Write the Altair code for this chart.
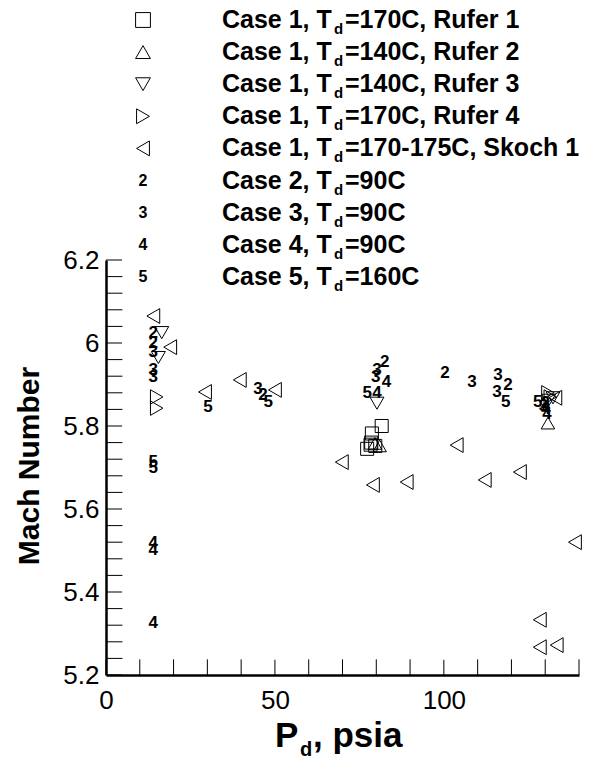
import altair as alt
import pandas as pd

# ---------------- data ----------------
rufer1_x = [81.6, 78.7, 78.3, 77.3, 79.7, 78.5]
rufer1_y = [5.800, 5.782, 5.755, 5.745, 5.752, 5.760]
rufer2_x = [79.6, 81.0, 130.8]
rufer2_y = [5.758, 5.752, 5.807]
rufer3_x = [16.5, 15.5, 80.2, 132.3, 131.0]
rufer3_y = [6.025, 5.965, 5.855, 5.868, 5.862]
rufer4_x = [15.0, 15.0, 130.8, 131.5]
rufer4_y = [5.870, 5.843, 5.880, 5.870]
skoch_x = [14.0, 19.0, 29.3, 39.6, 50.0, 69.8, 79.0, 89.0, 103.8, 112.1, 122.5, 138.8, 128.4, 128.4, 133.4, 133.0]
skoch_y = [6.065, 5.990, 5.882, 5.911, 5.887, 5.713, 5.658, 5.665, 5.754, 5.670, 5.689, 5.520, 5.333, 5.267, 5.272, 5.868]

case2_x = [14.0, 14.0, 46.5, 82.5, 100.3, 119.0, 130.0]
case2_y = [6.024, 6.000, 5.875, 5.955, 5.928, 5.899, 5.855]
case3_x = [14.0, 14.0, 14.0, 45.0, 80.2, 79.8, 108.3, 116.0, 115.7, 129.5]
case3_y = [5.978, 5.935, 5.918, 5.890, 5.935, 5.918, 5.906, 5.923, 5.882, 5.848]
case4_x = [14.0, 14.0, 14.0, 83.0, 80.2, 130.2, 130.5]
case4_y = [5.518, 5.501, 5.325, 5.906, 5.880, 5.840, 5.830]
case5_x = [14.0, 14.0, 30.2, 48.0, 77.3, 118.3, 127.8]
case5_y = [5.713, 5.700, 5.846, 5.858, 5.880, 5.858, 5.858]

legend_prefix = ["Case 1, T", "Case 1, T", "Case 1, T", "Case 1, T", "Case 1, T",
                 "Case 2, T", "Case 3, T", "Case 4, T", "Case 5, T"]
legend_suffix = ["=170C, Rufer 1", "=140C, Rufer 2", "=140C, Rufer 3", "=170C, Rufer 4",
                 "=170-175C, Skoch 1", "=90C", "=90C", "=90C", "=160C"]
legend_shape = ["square", "triangle-up", "triangle-down", "triangle-right", "triangle-left"]
legend_digit = ["2", "3", "4", "5"]

x_major = [0, 50, 100]
x_minor = [10, 20, 30, 40, 60, 70, 80, 90, 110, 120, 130, 140]
y_major = [5.2, 5.4, 5.6, 5.8, 6.0, 6.2]
y_minor = [5.24, 5.28, 5.32, 5.36, 5.44, 5.48, 5.52, 5.56, 5.64, 5.68, 5.72, 5.76,
           5.84, 5.88, 5.92, 5.96, 6.04, 6.08, 6.12, 6.16]

X0, X1, Y0, Y1 = 0.0, 140.0, 5.2, 6.2

# ---------------- tables ----------------
shape_names = ["Rufer 1", "Rufer 2", "Rufer 3", "Rufer 4", "Skoch 1"]
shape_sets = [(rufer1_x, rufer1_y), (rufer2_x, rufer2_y), (rufer3_x, rufer3_y),
              (rufer4_x, rufer4_y), (skoch_x, skoch_y)]
rows = []
for n, (xs_, ys_) in zip(shape_names, shape_sets):
    for a, b in zip(xs_, ys_):
        rows.append({"series": n, "x": a, "y": b})
# inward axis ticks, drawn as stroked symbols sitting on the axes
for v in x_major:
    rows.append({"series": "xmaj", "x": v, "y": Y0})
for v in x_minor:
    rows.append({"series": "xmin", "x": v, "y": Y0})
for v in y_major:
    rows.append({"series": "ymaj", "x": X0, "y": v})
for v in y_minor:
    rows.append({"series": "ymin", "x": X0, "y": v})
df_shapes = pd.DataFrame(rows)

rows = []
for d, (xs_, ys_) in zip(legend_digit, [(case2_x, case2_y), (case3_x, case3_y),
                                        (case4_x, case4_y), (case5_x, case5_y)]):
    for a, b in zip(xs_, ys_):
        rows.append({"digit": d, "x": a, "y": b})
df_digits = pd.DataFrame(rows)

df_leg = pd.DataFrame({"row": list(range(9)), "prefix": legend_prefix, "suffix": legend_suffix,
                       "sym": legend_shape + legend_digit})

W, H = 473, 415
FONT = "Liberation Sans"
xs = alt.Scale(domain=[X0, X1], nice=False, zero=False)
ys = alt.Scale(domain=[Y0, Y1], nice=False, zero=False)

x_axis = alt.Axis(values=x_major, ticks=False, tickSize=0, domain=True, domainWidth=2.5,
                  domainColor="black", labelFont=FONT, labelFontSize=26, labelColor="black",
                  labelPadding=12, labelFlush=False, labelOverlap=False, grid=False, title=None)
y_axis = alt.Axis(values=y_major, format=".1~f", ticks=False, tickSize=0, domain=True,
                  domainWidth=2.5, domainColor="black", labelFont=FONT, labelFontSize=26,
                  labelColor="black", labelPadding=7, labelFlush=False, labelOverlap=False,
                  grid=False, title=None)

sym_domain = shape_names + ["xmaj", "xmin", "ymaj", "ymin"]
sym_range = legend_shape + ["M0,0L0,-2", "M0,0L0,-2", "M0,0L2,0", "M0,0L2,0"]
size_range = [170, 270, 270, 270, 270, 169, 49, 169, 49]
width_range = [1, 1, 1, 1, 1, 2, 1.2, 2, 1.2]

shapes = alt.Chart(df_shapes).mark_point(filled=False, color="black", opacity=1).encode(
    x=alt.X("x:Q", scale=xs, axis=x_axis),
    y=alt.Y("y:Q", scale=ys, axis=y_axis),
    shape=alt.Shape("series:N", scale=alt.Scale(domain=sym_domain, range=sym_range), legend=None),
    size=alt.Size("series:N", scale=alt.Scale(domain=sym_domain, range=size_range), legend=None),
    strokeWidth=alt.StrokeWidth("series:N", scale=alt.Scale(domain=sym_domain, range=width_range), legend=None),
)

digits = alt.Chart(df_digits).mark_text(font=FONT, fontWeight="bold", fontSize=17, color="black",
                                        align="center", baseline="middle").encode(
    x=alt.X("x:Q", scale=xs), y=alt.Y("y:Q", scale=ys), text="digit:N")

# legend
leg_base = alt.Chart(df_leg).transform_calculate(py="-240 + 32.1 * datum.row")
LY = alt.Y("py:Q", scale=None, axis=None)
leg_shapes = leg_base.transform_filter("datum.row < 5").mark_point(
    filled=False, color="black", strokeWidth=1, opacity=1, size=220).encode(
    x=alt.value(37), y=LY,
    shape=alt.Shape("sym:N", scale=None, legend=None))
leg_digits = leg_base.transform_filter("datum.row >= 5").mark_text(
    font=FONT, fontWeight="bold", fontSize=16, color="black", align="center", baseline="middle").encode(
    x=alt.value(37), y=LY, text="sym:N")
leg_prefix = leg_base.mark_text(font=FONT, fontWeight="bold", fontSize=25, color="black",
                                align="left", baseline="middle").encode(x=alt.value(116), y=LY, text="prefix:N")
leg_sub = leg_base.mark_text(font=FONT, fontWeight="bold", fontSize=15, color="black",
                             align="left", baseline="middle", dy=9).encode(x=alt.value(228), y=LY, text=alt.value("d"))
leg_suffix = leg_base.mark_text(font=FONT, fontWeight="bold", fontSize=25, color="black",
                                align="left", baseline="middle").encode(x=alt.value(239), y=LY, text="suffix:N")

# axis titles
one = pd.DataFrame({"a": [0]})
ytitle = alt.Chart(one).mark_text(font=FONT, fontWeight="bold", fontSize=30, color="black", angle=270,
                                  align="center", baseline="middle").encode(
    x=alt.value(-76), y=alt.value(206), text=alt.value("Mach Number"))
xt_p = alt.Chart(one).mark_text(font=FONT, fontWeight="bold", fontSize=35, color="black",
                                align="left", baseline="alphabetic").encode(
    x=alt.value(169), y=alt.value(487), text=alt.value("P"))
xt_d = alt.Chart(one).mark_text(font=FONT, fontWeight="bold", fontSize=20, color="black",
                                align="left", baseline="alphabetic").encode(
    x=alt.value(194), y=alt.value(496), text=alt.value("d"))
xt_rest = alt.Chart(one).mark_text(font=FONT, fontWeight="bold", fontSize=35, color="black",
                                   align="left", baseline="alphabetic").encode(
    x=alt.value(207), y=alt.value(487), text=alt.value(", psia"))

chart = alt.layer(
    shapes, digits,
    leg_shapes, leg_digits, leg_prefix, leg_sub, leg_suffix,
    ytitle, xt_p, xt_d, xt_rest,
).properties(
    width=W, height=H,
    padding={"left": 106, "top": 260, "right": 36, "bottom": 82},
    autosize=alt.AutoSizeParams(type="none"),
    background="white",
).configure_view(stroke=None)

chart.save("out.html", embed_options={"renderer": "svg", "actions": False})
